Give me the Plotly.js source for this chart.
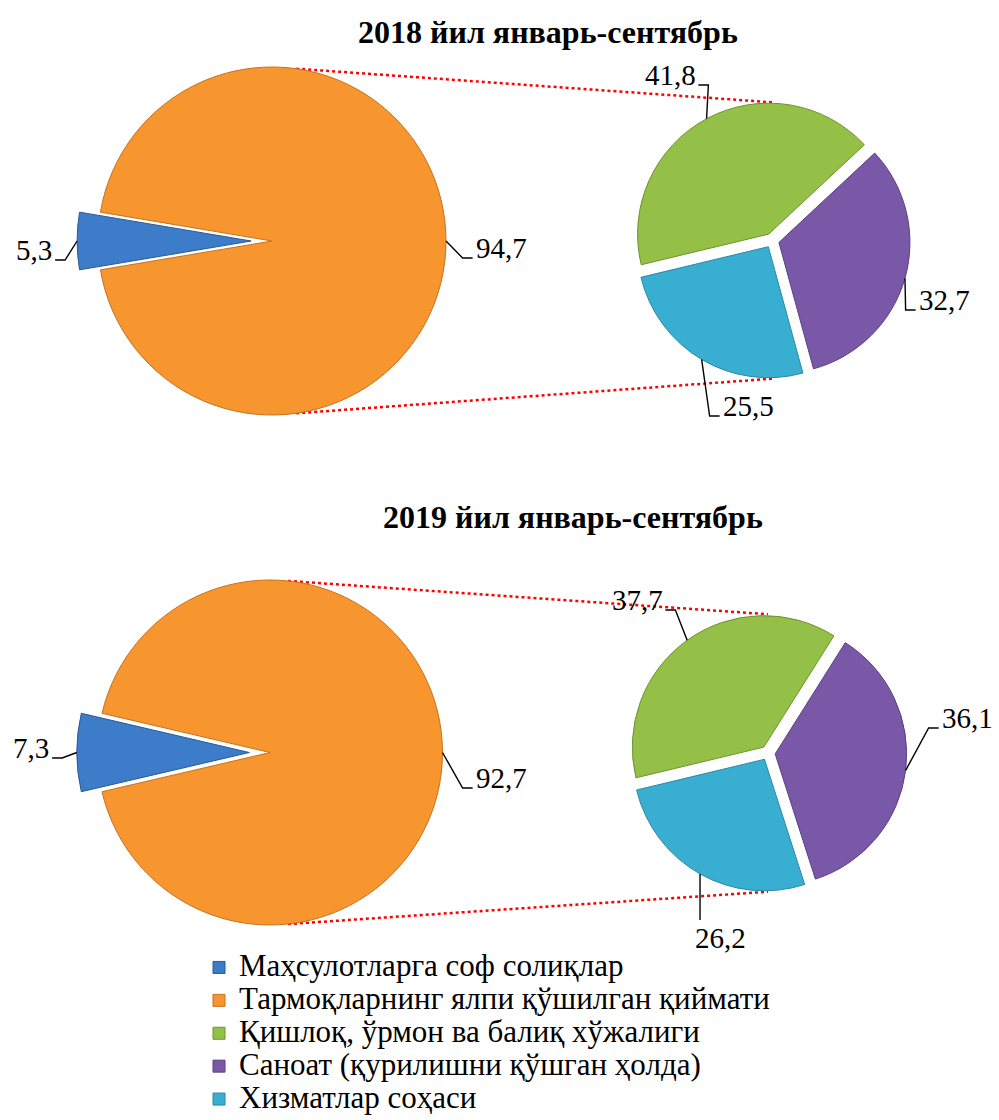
<!DOCTYPE html>
<html>
<head>
<meta charset="utf-8">
<script src="https://cdn.plot.ly/plotly-3.0.1.min.js"></script>
<style>html,body{margin:0;padding:0;background:#fff}</style>
</head>
<body>
<div id="chart" style="width:999px;height:1120px"></div>
<script>
// ---------- DATA ----------
const mainCategories = ["Маҳсулотларга соф солиқлар", "Тармоқларнинг ялпи қўшилган қиймати"];
const detailCategories = ["Қишлоқ, ўрмон ва балиқ хўжалиги", "Саноат (қурилишни қўшган ҳолда)", "Хизматлар соҳаси"];
const periodTitles = ["2018 йил январь-сентябрь", "2019 йил январь-сентябрь"];
const main2018 = [5.3, 94.7];
const detail2018 = [41.8, 32.7, 25.5];
const main2019 = [7.3, 92.7];
const detail2019 = [37.7, 36.1, 26.2];

// ---------- STYLE / GEOMETRY ----------
const W = 999, H = 1120;
const FONT = "Liberation Serif";
const LABEL_SIZE = 29;
const mainColors = ["#3D7CC9", "#F7962F"];
const detailColors = ["#95C048", "#7A58A8", "#38AFD1"];
const mainLine = ["#2A5A94", "#C8711C"];
const detailLine = ["#6E9230", "#5A3F80", "#2A88A6"];

// label text centres (px) and leader style; 'v' = vertical leader to the text top
const geom = [
  { main: {cx: 272, cy: 241, r: 174, pull: 0.12}, detail: {cx: 772, cy: 240.5, r: 131, pull: 0.055},
    detailRotation: 256.5, title: {x: 548, y: 32}, connAngle: 8,
    mainLabels: [[34, 250], [501, 248]], detailLabels: [[670, 75], [944, 300], [748, 406]] },
  { main: {cx: 270, cy: 752.5, r: 172.5, pull: 0.12}, detail: {cx: 768, cy: 753, r: 131.5, pull: 0.055},
    detailRotation: 256.5, title: {x: 573, y: 517}, connAngle: 6,
    mainLabels: [[31, 748], [501, 778]], detailLabels: [[637, 600], [967, 718], [720, 938, 'v']] }
];
const datasets = [
  {main: main2018, detail: detail2018},
  {main: main2019, detail: detail2019}
];

const legendLabel = s => '<span style="font-size:31px">' + s + '</span>';
const fmt = v => v.toFixed(1).replace('.', ',');
const sum = a => a.reduce((p, c) => p + c, 0);
const px2x = x => x / W;
const px2y = y => 1 - y / H;

function domainOf(g, pullMax) {
  const h = g.r * (1 + pullMax);
  return {x: [(g.cx - h) / W, (g.cx + h) / W], y: [1 - (g.cy + h) / H, 1 - (g.cy - h) / H]};
}

const traces = [];
const annotations = [];
const shapes = [];

function addLabels(values, g, rotation, pulls, labelPos) {
  const total = sum(values);
  let start = rotation;
  values.forEach((v, i) => {
    const span = v / total * 360;
    const mid = (start + span / 2) * Math.PI / 180;
    start += span;
    const dist = g.r * (1 + pulls[i]);
    const ex = g.cx + dist * Math.sin(mid);
    const ey = g.cy - dist * Math.cos(mid);
    const txt = fmt(v);
    const [tx, ty, mode] = labelPos[i];
    annotations.push({
      xref: 'paper', yref: 'paper', x: px2x(tx), y: px2y(ty),
      xanchor: 'center', yanchor: 'middle', showarrow: false,
      text: txt, font: {family: FONT, size: LABEL_SIZE, color: '#000'}
    });
    let path;
    if (mode === 'v') {
      path = `M${px2x(ex)},${px2y(ey)} L${px2x(ex)},${px2y(ty - 18)}`;
    } else {
      const halfW = ((txt.length - 1) * 0.5 + 0.25) * LABEL_SIZE / 2;
      const side = tx > ex ? 1 : -1;
      const hy = ty + 10;
      const xa = tx - side * (halfW + 3);
      const xb = xa - side * 10;
      path = `M${px2x(xa)},${px2y(hy)} L${px2x(xb)},${px2y(hy)} L${px2x(ex)},${px2y(ey)}`;
    }
    shapes.push({type: 'path', xref: 'paper', yref: 'paper', path: path,
      line: {color: '#000', width: 1.4}, layer: 'above'});
  });
}

datasets.forEach((d, k) => {
  const g = geom[k];
  const mainPulls = d.main.map((v, i) => i === 0 ? g.main.pull : 0);
  const mainRotation = 270 - d.main[0] / sum(d.main) * 180;
  traces.push({
    type: 'pie', labels: mainCategories.map(legendLabel), values: d.main,
    sort: false, direction: 'clockwise', rotation: mainRotation, pull: mainPulls,
    marker: {colors: mainColors, line: {color: mainLine, width: 1}},
    textinfo: 'none', hoverinfo: 'label+value',
    domain: domainOf(g.main, g.main.pull), showlegend: true
  });
  const detailPulls = d.detail.map(() => g.detail.pull);
  traces.push({
    type: 'pie', labels: detailCategories.map(legendLabel), values: d.detail,
    sort: false, direction: 'clockwise', rotation: g.detailRotation, pull: detailPulls,
    marker: {colors: detailColors, line: {color: detailLine, width: 1}},
    textinfo: 'none', hoverinfo: 'label+value',
    domain: domainOf(g.detail, g.detail.pull), showlegend: true
  });
  addLabels(d.main, g.main, mainRotation, mainPulls, g.mainLabels);
  addLabels(d.detail, g.detail, g.detailRotation, detailPulls, g.detailLabels);

  annotations.push({
    xref: 'paper', yref: 'paper', x: px2x(g.title.x), y: px2y(g.title.y),
    xanchor: 'center', yanchor: 'middle', showarrow: false,
    text: '<b>' + periodTitles[k] + '</b>',
    font: {family: FONT, size: 32, color: '#000'}
  });

  const a = g.connAngle * Math.PI / 180;
  const rd = g.detail.r * (1 + g.detail.pull);
  [-1, 1].forEach(s => {
    shapes.push({
      type: 'line', xref: 'paper', yref: 'paper',
      x0: px2x(g.main.cx + g.main.r * Math.sin(a)),
      y0: px2y(g.main.cy + s * g.main.r * Math.cos(a)),
      x1: px2x(g.detail.cx),
      y1: px2y(g.detail.cy + s * rd),
      line: {color: '#FF0000', width: 2.5, dash: 'dot'}, layer: 'below'
    });
  });
});

const layout = {
  width: W, height: H,
  margin: {l: 0, r: 0, t: 0, b: 0, autoexpand: false},
  paper_bgcolor: '#fff', plot_bgcolor: '#fff',
  font: {family: FONT},
  showlegend: true,
  legend: {
    x: 199 / W, y: px2y(946), xanchor: 'left', yanchor: 'top',
    font: {family: FONT, size: 23, color: '#000'},
    bgcolor: 'rgba(0,0,0,0)', traceorder: 'normal'
  },
  annotations: annotations,
  shapes: shapes
};

Plotly.newPlot('chart', traces, layout, {displayModeBar: false, staticPlot: true});
</script>
</body>
</html>
